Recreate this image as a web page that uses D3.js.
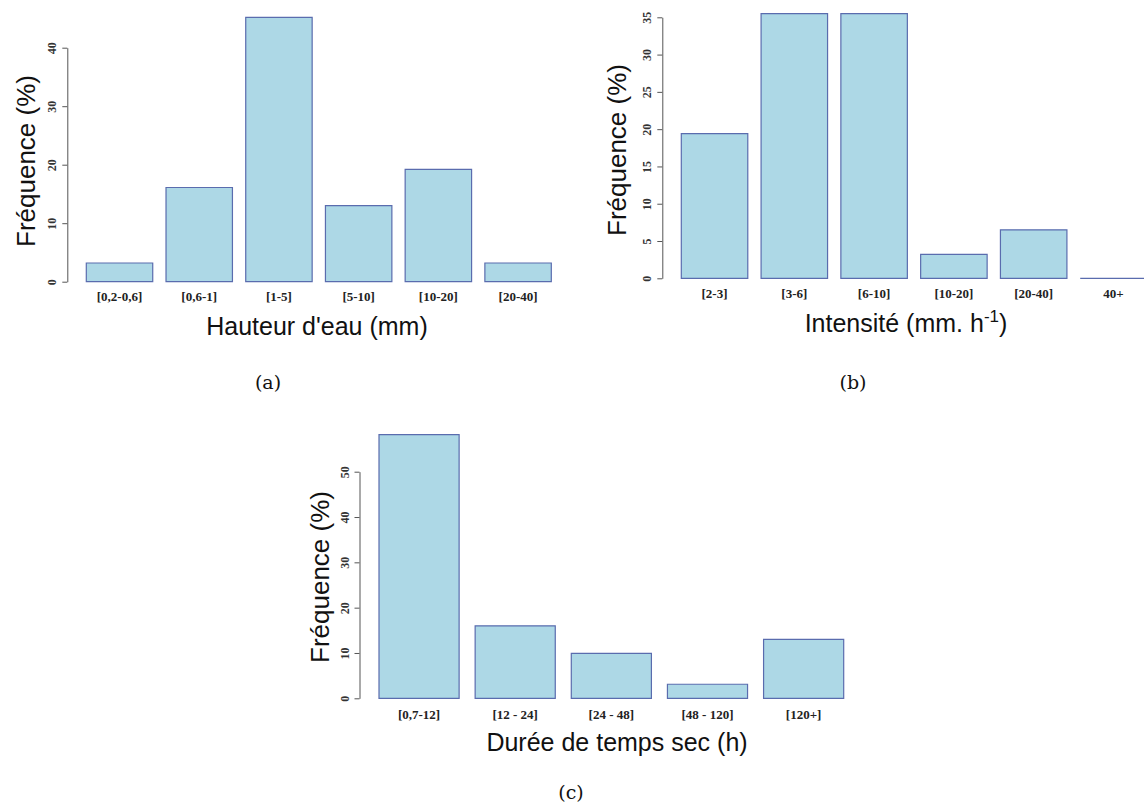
<!DOCTYPE html>
<html>
<head>
<meta charset="utf-8">
<script src="https://cdn.jsdelivr.net/npm/d3@7/dist/d3.min.js"></script>
<style>
  html, body { margin: 0; padding: 0; background: #fff; }
  svg { display: block; }
</style>
</head>
<body>
<svg id="chart" width="1144" height="808"></svg>
<script>
// ---------------- DATA ----------------
const hauteurCategories = ["[0,2-0,6]", "[0,6-1]", "[1-5]", "[5-10]", "[10-20]", "[20-40]"];
const hauteurValues     = [3.2, 16.1, 45.2, 13.0, 19.2, 3.2];
const hauteurTicks      = [0, 10, 20, 30, 40];

const intensiteCategories = ["[2-3]", "[3-6]", "[6-10]", "[10-20]", "[20-40]", "40+"];
const intensiteValues     = [19.4, 35.5, 35.5, 3.2, 6.5, 0];
const intensiteTicks      = [0, 5, 10, 15, 20, 25, 30, 35];

const dureeCategories = ["[0,7-12]", "[12 - 24]", "[24 - 48]", "[48 - 120]", "[120+]"];
const dureeValues     = [58.2, 16.0, 9.9, 3.1, 13.0];
const dureeTicks      = [0, 10, 20, 30, 40, 50];

const yLabel = "Fréquence (%)";

// ---------------- LAYOUT ----------------
const svg = d3.select("#chart");
const BAR_FILL = "#add8e6";
const BAR_STROKE = "#5a6cae";
const AXIS_COLOR = "#555";

const panels = [
  {
    cats: hauteurCategories, vals: hauteurValues, ticks: hauteurTicks,
    xRange: [86.3, 551.3], yRange: [281.7, 47.7], axisX: 67.3,
    xTickBase: 301, xTitle: ["Hauteur d'eau (mm)"], xTitleX: 317, xTitleY: 335,
    yLabelX: 27.5, yLabelY: 161,
    caption: "(a)", capX: 268, capY: 389
  },
  {
    cats: intensiteCategories, vals: intensiteValues, ticks: intensiteTicks,
    xRange: [681.3, 1146.7], yRange: [278.3, 17.3], axisX: 662.3,
    xTickBase: 298, xTitle: null, xTitleX: 906, xTitleY: 332,
    yLabelX: 619, yLabelY: 150,
    caption: "(b)", capX: 853, capY: 389
  },
  {
    cats: dureeCategories, vals: dureeValues, ticks: dureeTicks,
    xRange: [379, 843.7], yRange: [698.3, 471.7], axisX: 359.5,
    xTickBase: 719, xTitle: ["Durée de temps sec (h)"], xTitleX: 617, xTitleY: 751,
    yLabelX: 322, yLabelY: 577,
    caption: "(c)", capX: 571, capY: 799
  }
];

panels.forEach((p, i) => {
  const g = svg.append("g");
  const x = d3.scaleBand().domain(p.cats).range(p.xRange).paddingInner(1/6).paddingOuter(0);
  const yMax = p.ticks[p.ticks.length - 1];
  const y = d3.scaleLinear().domain([0, yMax]).range(p.yRange);

  // bars (paths so zero-height bars still show as a line)
  g.selectAll("path.bar")
    .data(p.cats.map((c, k) => ({ c, v: p.vals[k] })))
    .join("path")
    .attr("class", "bar")
    .attr("d", d => {
      const x0 = x(d.c), w = x.bandwidth(), y0 = y(0), y1 = y(d.v);
      return `M${x0},${y0}H${x0 + w}V${y1}H${x0}Z`;
    })
    .attr("fill", BAR_FILL)
    .attr("stroke", BAR_STROKE)
    .attr("stroke-width", 1.2);

  // y axis
  const yAxis = d3.axisLeft(y).tickValues(p.ticks).tickSize(5).tickSizeOuter(0).tickFormat(d3.format("d"));
  const ga = g.append("g").attr("transform", `translate(${p.axisX},0)`).call(yAxis);
  ga.select(".domain").attr("stroke", AXIS_COLOR).attr("stroke-width", 1);
  ga.selectAll(".tick line").attr("stroke", AXIS_COLOR).attr("stroke-width", 1);
  ga.selectAll(".tick text")
    .attr("x", 0).attr("y", -11).attr("dy", 0)
    .attr("transform", "rotate(-90)")
    .attr("text-anchor", "middle")
    .attr("font-family", "'Liberation Serif', 'Times New Roman', serif")
    .attr("font-weight", "bold")
    .attr("font-size", 12)
    .attr("fill", "#333");

  // x category labels
  g.selectAll("text.xcat")
    .data(p.cats)
    .join("text")
    .attr("class", "xcat")
    .attr("x", d => x(d) + x.bandwidth() / 2)
    .attr("y", p.xTickBase)
    .attr("text-anchor", "middle")
    .attr("font-family", "'Liberation Serif', 'Times New Roman', serif")
    .attr("font-weight", "bold")
    .attr("font-size", 13)
    .attr("fill", "#222")
    .text(d => d);

  // x title
  const xt = g.append("text")
    .attr("x", p.xTitleX).attr("y", p.xTitleY)
    .attr("text-anchor", "middle")
    .attr("font-family", "'Liberation Sans', Arial, sans-serif")
    .attr("font-size", 25)
    .attr("fill", "#111");
  if (p.xTitle) {
    xt.text(p.xTitle[0]);
  } else {
    xt.append("tspan").text("Intensité (mm. h");
    xt.append("tspan").attr("dy", -10).attr("font-size", 17).text("-1");
    xt.append("tspan").attr("dy", 10).text(")");
  }

  // y label
  g.append("text")
    .attr("transform", `translate(${p.yLabelX + 7},${p.yLabelY}) rotate(-90)`)
    .attr("text-anchor", "middle")
    .attr("font-family", "'Liberation Sans', Arial, sans-serif")
    .attr("font-size", 26)
    .attr("fill", "#111")
    .text(yLabel);

  // caption
  g.append("text")
    .attr("x", p.capX).attr("y", p.capY)
    .attr("text-anchor", "middle")
    .attr("font-family", "'DejaVu Serif', 'Liberation Serif', serif")
    .attr("font-size", 19)
    .attr("fill", "#111")
    .text(p.caption);
});
</script>
</body>
</html>
